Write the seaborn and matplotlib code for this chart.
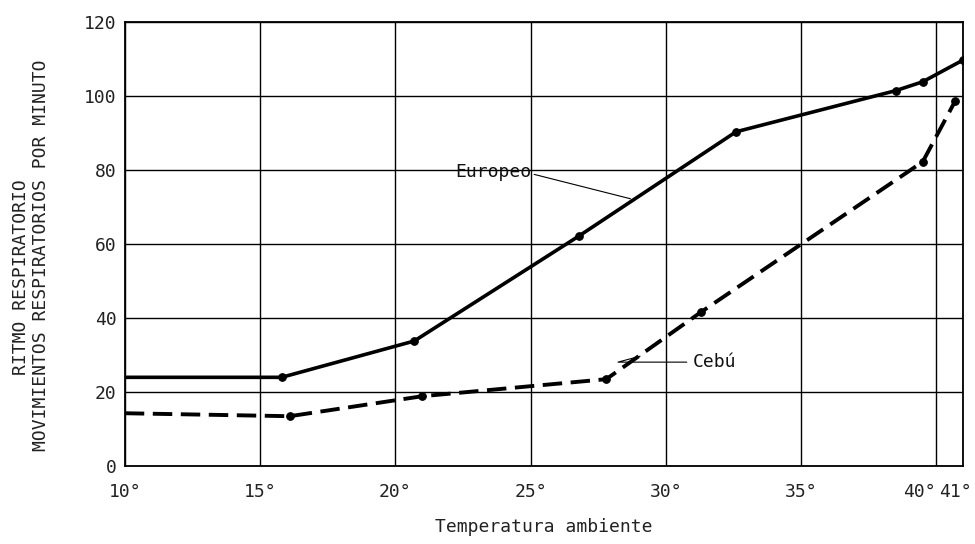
import matplotlib
matplotlib.use("Agg")
import matplotlib.pyplot as plt
import matplotlib.transforms as mtransforms
import seaborn as sns
import pandas as pd

# temperatura ambiente (°C) y ritmo respiratorio (movimientos / minuto)
europeo_temp = [10, 15.8, 20.7, 26.8, 32.6, 38.5, 39.5, 41.0]
europeo_ritmo = [24, 24, 33.8, 62.2, 90.3, 101.4, 103.8, 109.7]

cebu_temp = [10, 16.1, 21.0, 27.8, 31.3, 39.5, 40.7]
cebu_ritmo = [14.3, 13.5, 18.9, 23.5, 41.6, 82.2, 98.6]

x_ticks = [10, 15, 20, 25, 30, 35, 40, 41]
y_ticks = [0, 20, 40, 60, 80, 100, 120]

sns.set_style("white")
plt.rcParams["font.family"] = ["DejaVu Sans Mono", "DejaVu Sans"]

europeo = pd.DataFrame({"temp": europeo_temp, "ritmo": europeo_ritmo})
cebu = pd.DataFrame({"temp": cebu_temp, "ritmo": cebu_ritmo})

fig, ax = plt.subplots(figsize=(9.75, 5.44), dpi=100)
fig.subplots_adjust(left=0.128, right=0.988, top=0.96, bottom=0.143)

sns.lineplot(data=europeo, x="temp", y="ritmo", ax=ax, color="black",
             linewidth=2.6, marker="o", markersize=5.5,
             markeredgecolor="black", markerfacecolor="black",
             markevery=list(range(1, len(europeo_temp))))
sns.lineplot(data=cebu, x="temp", y="ritmo", ax=ax, color="black",
             linewidth=2.8, linestyle=(0, (5, 2.2)), marker="o", markersize=5.5,
             markeredgecolor="black", markerfacecolor="black",
             markevery=list(range(1, len(cebu_temp))))

ax.set_xlim(10, 41)
ax.set_ylim(0, 120)
ax.set_xticks(x_ticks)
ax.set_xticklabels([f"{t}°" for t in x_ticks])
ax.set_yticks(y_ticks)
ax.tick_params(length=0, labelsize=13, colors="#222222")
ax.tick_params(axis="x", pad=12)
ax.tick_params(axis="y", pad=6)

# 40° y 41° quedan muy juntos: desplazar un poco a la izquierda
labels = ax.get_xticklabels()
labels[-2].set_transform(labels[-2].get_transform() +
                         mtransforms.ScaledTranslation(-0.17, 0, fig.dpi_scale_trans))
labels[-1].set_transform(labels[-1].get_transform() +
                         mtransforms.ScaledTranslation(-0.08, 0, fig.dpi_scale_trans))

ax.grid(True, color="black", linewidth=1.0)
for s in ax.spines.values():
    s.set_visible(True)
    s.set_color("black")
    s.set_linewidth(1.3)

ax.set_xlabel("Temperatura ambiente", fontsize=13, labelpad=12, color="#222222")
ax.set_ylabel("")
fig.text(0.022, 0.49, "RITMO RESPIRATORIO", rotation=90, ha="center", va="center",
         fontsize=13, color="#222222")
fig.text(0.042, 0.53, "MOVIMIENTOS RESPIRATORIOS POR MINUTO", rotation=90,
         ha="center", va="center", fontsize=13, color="#222222")

ax.annotate("Europeo", xy=(28.7, 72.2), xytext=(22.2, 79.5), fontsize=13,
            ha="left", va="center", color="#111111",
            arrowprops=dict(arrowstyle="-", color="black", linewidth=0.8,
                            shrinkA=0, shrinkB=0, relpos=(1, 0.4)))
ax.annotate("Cebú", xy=(29.05, 29.7), xytext=(31.0, 28.1), fontsize=13,
            ha="left", va="center", color="#111111",
            arrowprops=dict(arrowstyle="-", color="black", linewidth=0.8,
                            shrinkA=2, shrinkB=0, relpos=(0, 0.5),
                            connectionstyle="angle,angleA=180,angleB=15,rad=0"))

fig.savefig("out.png", dpi=100)
